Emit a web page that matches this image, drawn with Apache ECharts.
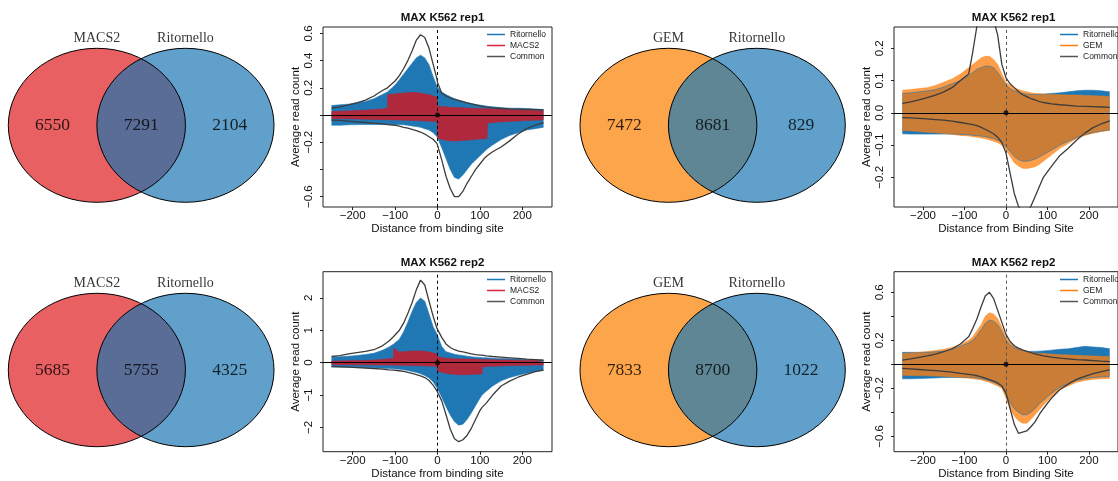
<!DOCTYPE html>
<html><head><meta charset="utf-8">
<script src="https://cdn.jsdelivr.net/npm/echarts@6/dist/echarts.min.js"></script>
<style>html,body{margin:0;padding:0;background:#fff}#c{width:1118px;height:481px}</style>
</head><body><div id="c"></div>
<script>
// ---------------- Venn data ----------------
const vennSetsA = ['MACS2', 'Ritornello'];
const vennSetsB = ['GEM', 'Ritornello'];
const vennRep1A = [6550, 7291, 2104];
const vennRep2A = [5685, 5755, 4325];
const vennRep1B = [7472, 8681, 829];
const vennRep2B = [7833, 8700, 1022];

// ---------------- Profile data ----------------
const profileTitles = ['MAX K562 rep1', 'MAX K562 rep1', 'MAX K562 rep2', 'MAX K562 rep2'];
const xTicks = [-200, -100, 0, 100, 200];

// Panel 1: MACS2 vs Ritornello, rep1
const xP1 = [-250,-230,-210,-190,-170,-150,-130,-118,-117,-100,-90,-80,-70,-60,-50,-40,-30,-20,-10,-1,0,10,20,30,40,50,60,70,80,90,100,110,117,118,130,150,170,190,210,230,250];
const p1RitTop = [0.07,0.075,0.08,0.09,0.1,0.12,0.15,0.17,0.17,0.22,0.26,0.3,0.34,0.38,0.42,0.44,0.42,0.37,0.28,0.21,0.2,0.17,0.15,0.135,0.12,0.11,0.1,0.09,0.085,0.078,0.073,0.068,0.065,0.065,0.06,0.055,0.05,0.05,0.048,0.045,0.04];
const p1RitBot = [-0.075,-0.075,-0.072,-0.07,-0.07,-0.07,-0.07,-0.07,-0.07,-0.07,-0.07,-0.072,-0.075,-0.08,-0.085,-0.09,-0.1,-0.11,-0.13,-0.16,-0.17,-0.24,-0.32,-0.4,-0.46,-0.47,-0.44,-0.4,-0.36,-0.33,-0.3,-0.27,-0.25,-0.25,-0.22,-0.18,-0.15,-0.13,-0.11,-0.1,-0.09];
const p1MacTop = [0.025,0.028,0.03,0.033,0.036,0.04,0.045,0.05,0.15,0.155,0.16,0.16,0.165,0.165,0.165,0.16,0.155,0.15,0.14,0.13,0.065,0.062,0.06,0.058,0.056,0.055,0.053,0.052,0.05,0.049,0.048,0.047,0.046,0.046,0.044,0.042,0.04,0.037,0.035,0.033,0.03];
const p1MacBot = [-0.025,-0.027,-0.028,-0.03,-0.031,-0.032,-0.034,-0.035,-0.035,-0.036,-0.037,-0.038,-0.039,-0.04,-0.041,-0.042,-0.043,-0.045,-0.047,-0.05,-0.17,-0.18,-0.185,-0.19,-0.19,-0.19,-0.185,-0.185,-0.18,-0.18,-0.175,-0.175,-0.17,-0.06,-0.055,-0.05,-0.047,-0.044,-0.041,-0.038,-0.035];
const p1ComTop = [0.05,0.06,0.075,0.09,0.11,0.14,0.18,0.2,0.2,0.25,0.29,0.34,0.4,0.47,0.55,0.59,0.57,0.49,0.37,0.26,0.24,0.16,0.14,0.125,0.115,0.105,0.098,0.09,0.082,0.075,0.068,0.062,0.058,0.058,0.053,0.048,0.045,0.043,0.041,0.039,0.037];
const p1ComBot = [-0.037,-0.04,-0.045,-0.05,-0.055,-0.06,-0.065,-0.07,-0.07,-0.075,-0.082,-0.09,-0.097,-0.105,-0.115,-0.125,-0.14,-0.16,-0.18,-0.21,-0.22,-0.33,-0.45,-0.54,-0.6,-0.6,-0.56,-0.5,-0.45,-0.4,-0.36,-0.32,-0.3,-0.3,-0.27,-0.235,-0.19,-0.14,-0.1,-0.075,-0.055];
const p1YTicks = [-0.6,-0.4,-0.2,0,0.2,0.4,0.6];
const p1YLabels = [-0.6,-0.2,0.2,0.4,0.6];

// Panel 2: GEM vs Ritornello, rep1
const xP2 = [-250,-230,-210,-190,-170,-150,-130,-110,-90,-80,-70,-60,-50,-40,-30,-20,-10,0,10,20,30,40,50,60,70,80,90,110,130,150,170,190,210,230,250];
const p2RitTop = [0.06,0.062,0.065,0.068,0.072,0.08,0.09,0.1,0.115,0.125,0.135,0.14,0.145,0.145,0.14,0.125,0.105,0.085,0.075,0.068,0.063,0.06,0.058,0.057,0.057,0.057,0.058,0.06,0.062,0.065,0.068,0.07,0.07,0.068,0.065];
const p2RitBot = [-0.065,-0.066,-0.066,-0.066,-0.066,-0.066,-0.066,-0.067,-0.068,-0.07,-0.071,-0.072,-0.074,-0.077,-0.08,-0.085,-0.092,-0.105,-0.12,-0.135,-0.145,-0.15,-0.15,-0.148,-0.143,-0.137,-0.13,-0.115,-0.1,-0.088,-0.077,-0.068,-0.062,-0.057,-0.053];
const p2GemTop = [0.07,0.072,0.075,0.078,0.085,0.095,0.105,0.12,0.14,0.15,0.16,0.17,0.175,0.175,0.165,0.15,0.12,0.095,0.085,0.078,0.072,0.068,0.065,0.062,0.06,0.06,0.058,0.057,0.056,0.055,0.055,0.054,0.053,0.052,0.05];
const p2GemBot = [-0.055,-0.056,-0.058,-0.06,-0.062,-0.064,-0.067,-0.07,-0.072,-0.074,-0.076,-0.078,-0.08,-0.084,-0.088,-0.093,-0.1,-0.115,-0.135,-0.155,-0.165,-0.172,-0.173,-0.17,-0.167,-0.16,-0.15,-0.13,-0.11,-0.095,-0.08,-0.07,-0.063,-0.058,-0.055];
const p2ComTop = [0.029,0.034,0.04,0.047,0.055,0.065,0.078,0.1,0.12,0.19,0.27,0.3,0.32,0.32,0.29,0.24,0.15,0.108,0.09,0.078,0.066,0.056,0.05,0.044,0.04,0.035,0.032,0.028,0.025,0.023,0.021,0.02,0.019,0.018,0.017];
const p2ComBot = [-0.015,-0.016,-0.017,-0.019,-0.021,-0.023,-0.026,-0.03,-0.034,-0.037,-0.04,-0.045,-0.051,-0.058,-0.065,-0.076,-0.092,-0.125,-0.188,-0.25,-0.29,-0.31,-0.31,-0.29,-0.26,-0.23,-0.2,-0.165,-0.132,-0.11,-0.085,-0.063,-0.046,-0.034,-0.025];
const p2YTicks = [-0.2,-0.1,0,0.1,0.2];
const p2YLabels = [-0.2,-0.1,0,0.1,0.2];

// Panel 3: MACS2 vs Ritornello, rep2
const xP3 = [-250,-230,-210,-190,-170,-150,-130,-115,-104,-103,-90,-80,-70,-60,-50,-40,-30,-20,-10,-1,0,10,20,30,40,50,60,70,80,90,100,105,106,115,130,150,170,190,210,230,250];
const p3RitTop = [0.17,0.18,0.2,0.22,0.25,0.29,0.38,0.48,0.57,0.58,0.72,0.95,1.25,1.58,1.86,2.0,1.9,1.5,1.1,0.88,0.86,0.5,0.34,0.3,0.26,0.24,0.22,0.2,0.18,0.17,0.16,0.155,0.155,0.15,0.14,0.13,0.12,0.11,0.1,0.09,0.08];
const p3RitBot = [-0.13,-0.135,-0.14,-0.145,-0.15,-0.16,-0.17,-0.18,-0.19,-0.19,-0.2,-0.22,-0.24,-0.27,-0.3,-0.34,-0.4,-0.47,-0.6,-0.78,-0.8,-1.07,-1.35,-1.62,-1.82,-1.93,-1.9,-1.75,-1.55,-1.32,-1.1,-1.0,-1.0,-0.88,-0.72,-0.56,-0.46,-0.39,-0.33,-0.28,-0.23];
const p3MacTop = [0.05,0.055,0.06,0.065,0.07,0.08,0.1,0.12,0.13,0.45,0.33,0.34,0.35,0.36,0.36,0.36,0.35,0.33,0.3,0.26,0.18,0.16,0.14,0.13,0.12,0.12,0.115,0.11,0.11,0.105,0.1,0.1,0.1,0.095,0.09,0.085,0.08,0.075,0.07,0.065,0.06];
const p3MacBot = [-0.06,-0.062,-0.064,-0.066,-0.068,-0.07,-0.073,-0.075,-0.077,-0.078,-0.08,-0.082,-0.085,-0.088,-0.09,-0.095,-0.1,-0.105,-0.11,-0.12,-0.25,-0.3,-0.33,-0.35,-0.36,-0.37,-0.37,-0.37,-0.36,-0.36,-0.35,-0.35,-0.13,-0.12,-0.11,-0.1,-0.09,-0.085,-0.08,-0.075,-0.07];
const p3ComTop = [0.19,0.22,0.27,0.31,0.35,0.4,0.52,0.66,0.8,0.81,1.0,1.22,1.52,1.85,2.25,2.55,2.4,1.9,1.42,1.05,1.0,0.78,0.58,0.47,0.4,0.36,0.33,0.3,0.27,0.25,0.235,0.23,0.23,0.21,0.19,0.17,0.15,0.13,0.11,0.095,0.08];
const p3ComBot = [-0.12,-0.13,-0.14,-0.15,-0.165,-0.18,-0.2,-0.22,-0.23,-0.23,-0.25,-0.27,-0.3,-0.33,-0.37,-0.41,-0.46,-0.55,-0.7,-0.88,-0.9,-1.18,-1.6,-2.05,-2.35,-2.44,-2.38,-2.24,-2.02,-1.75,-1.48,-1.38,-1.37,-1.25,-1.0,-0.72,-0.57,-0.45,-0.36,-0.28,-0.23];
const p3YTicks = [-2,-1,0,1,2];
const p3YLabels = [-2,-1,0,1,2];

// Panel 4: GEM vs Ritornello, rep2
const xP4 = [-250,-230,-210,-190,-170,-150,-130,-110,-90,-80,-70,-60,-50,-40,-30,-20,-10,0,10,20,30,40,50,60,70,80,90,110,130,150,170,190,210,230,250];
const p4RitTop = [0.1,0.1,0.1,0.1,0.105,0.11,0.125,0.15,0.18,0.2,0.24,0.29,0.34,0.37,0.36,0.33,0.27,0.2,0.16,0.14,0.125,0.115,0.11,0.108,0.108,0.11,0.112,0.118,0.125,0.13,0.14,0.15,0.145,0.14,0.13];
const p4RitBot = [-0.12,-0.12,-0.118,-0.115,-0.113,-0.11,-0.11,-0.11,-0.11,-0.112,-0.115,-0.12,-0.128,-0.138,-0.15,-0.165,-0.185,-0.25,-0.32,-0.37,-0.4,-0.42,-0.42,-0.4,-0.37,-0.33,-0.3,-0.24,-0.19,-0.16,-0.135,-0.12,-0.11,-0.105,-0.1];
const p4GemTop = [0.09,0.095,0.1,0.107,0.115,0.125,0.14,0.165,0.2,0.23,0.28,0.33,0.4,0.43,0.42,0.38,0.31,0.23,0.18,0.155,0.13,0.115,0.105,0.1,0.095,0.09,0.09,0.085,0.08,0.078,0.075,0.072,0.07,0.067,0.064];
const p4GemBot = [-0.09,-0.092,-0.094,-0.096,-0.098,-0.1,-0.105,-0.11,-0.115,-0.12,-0.125,-0.13,-0.14,-0.15,-0.165,-0.18,-0.2,-0.28,-0.37,-0.43,-0.47,-0.49,-0.49,-0.46,-0.42,-0.38,-0.34,-0.27,-0.21,-0.18,-0.15,-0.135,-0.125,-0.12,-0.117];
const p4ComTop = [0.036,0.046,0.058,0.07,0.085,0.105,0.13,0.17,0.23,0.3,0.38,0.48,0.57,0.6,0.55,0.45,0.35,0.25,0.19,0.155,0.135,0.12,0.108,0.098,0.088,0.078,0.07,0.06,0.052,0.046,0.04,0.036,0.031,0.026,0.022];
const p4ComBot = [-0.033,-0.038,-0.043,-0.048,-0.053,-0.058,-0.065,-0.075,-0.083,-0.088,-0.095,-0.105,-0.115,-0.127,-0.14,-0.155,-0.18,-0.24,-0.37,-0.5,-0.575,-0.565,-0.555,-0.52,-0.48,-0.42,-0.37,-0.28,-0.21,-0.165,-0.125,-0.1,-0.078,-0.06,-0.047];
const p4YTicks = [-0.6,-0.4,-0.2,0,0.2,0.4,0.6];
const p4YLabels = [-0.6,-0.2,0.2,0.6];

// ---------------- Styles / layout ----------------
const SANS = "'Liberation Sans', Arial, Helvetica, sans-serif";
const SERIF = "'Liberation Serif', 'Times New Roman', serif";
const C_BLUE = '#1F77B4', C_RED = '#B0283C', C_RED_LEG = '#D9263C', C_ORANGE = '#FF7F0E', C_COMMON = '#3c3c3c';
const V_RED = '#E86062', V_BLUE = '#60A0CA', V_LENS_A = '#5A6D97', V_ORANGE = '#FDA54A', V_LENS_B = '#5F8694';

const vennLayouts = [
  {left: 8.3, top: 48.3, width: 265.7, height: 154, sets: vennSetsA, counts: vennRep1A, colors: [V_RED, V_BLUE, V_LENS_A]},
  {left: 580, top: 48.3, width: 265.3, height: 154, sets: vennSetsB, counts: vennRep1B, colors: [V_ORANGE, V_BLUE, V_LENS_B]},
  {left: 8.3, top: 293.3, width: 265.7, height: 153.4, sets: vennSetsA, counts: vennRep2A, colors: [V_RED, V_BLUE, V_LENS_A]},
  {left: 580, top: 293.3, width: 265.3, height: 153.4, sets: vennSetsB, counts: vennRep2B, colors: [V_ORANGE, V_BLUE, V_LENS_B]}
];

const panels = [
  {grid: {left: 323, top: 27, width: 229, height: 180}, titleTop: 7, legend: {left: 487, top: 30},
   ymin: -0.676, ymax: 0.647, dec: 1, yTicks: p1YTicks, yLabels: p1YLabels, xName: 'Distance from binding site',
   other: 'MACS2', otherColor: C_RED, otherLeg: C_RED_LEG, otherOpacity: 1,
   xs: xP1, ritTop: p1RitTop, ritBot: p1RitBot, oTop: p1MacTop, oBot: p1MacBot, cTop: p1ComTop, cBot: p1ComBot},
  {grid: {left: 894, top: 27, width: 230, height: 180}, titleTop: 7, legend: {left: 1060, top: 30},
   ymin: -0.292, ymax: 0.266, dec: 1, yTicks: p2YTicks, yLabels: p2YLabels, xName: 'Distance from Binding Site',
   other: 'GEM', otherColor: C_ORANGE, otherLeg: C_ORANGE, otherOpacity: 0.76,
   xs: xP2, ritTop: p2RitTop, ritBot: p2RitBot, oTop: p2GemTop, oBot: p2GemBot, cTop: p2ComTop, cBot: p2ComBot},
  {grid: {left: 323, top: 271.7, width: 229, height: 180}, titleTop: 252, legend: {left: 487, top: 275},
   ymin: -2.75, ymax: 2.81, dec: 0, yTicks: p3YTicks, yLabels: p3YLabels, xName: 'Distance from binding site',
   other: 'MACS2', otherColor: C_RED, otherLeg: C_RED_LEG, otherOpacity: 1,
   xs: xP3, ritTop: p3RitTop, ritBot: p3RitBot, oTop: p3MacTop, oBot: p3MacBot, cTop: p3ComTop, cBot: p3ComBot},
  {grid: {left: 894, top: 271.7, width: 230, height: 180}, titleTop: 252, legend: {left: 1060, top: 275},
   ymin: -0.728, ymax: 0.772, dec: 1, yTicks: p4YTicks, yLabels: p4YLabels, xName: 'Distance from Binding Site',
   other: 'GEM', otherColor: C_ORANGE, otherLeg: C_ORANGE, otherOpacity: 0.76,
   xs: xP4, ritTop: p4RitTop, ritBot: p4RitBot, oTop: p4GemTop, oBot: p4GemBot, cTop: p4ComTop, cBot: p4ComBot}
];

// ---------------- Build option ----------------
function pairs(xs, ys) { return xs.map((x, i) => [x, ys[i]]); }
function fmt(dec) { return v => (v < -1e-9 ? '\u2212' : '') + Math.abs(v).toFixed(dec); }

const grids = [], xAxes = [], yAxes = [], series = [], titles = [], legends = [];

vennLayouts.forEach((v, i) => {
  grids.push({left: v.left, top: v.top, width: v.width, height: v.height, show: false});
  xAxes.push({type: 'value', gridIndex: i, min: -1.5, max: 1.5, show: false});
  yAxes.push({type: 'value', gridIndex: i, min: -1, max: 1, show: false});
  const cols = v.colors;
  series.push({
    type: 'custom', xAxisIndex: i, yAxisIndex: i, silent: true, clip: false, z: 1,
    data: [[0, 0]],
    renderItem: function (params, api) {
      const c1 = api.coord([-0.5, 0]), c2 = api.coord([0.5, 0]);
      const s = api.size([1, 1]);
      const rx = s[0], ry = s[1];
      const h = Math.sqrt(0.75);
      const t = api.coord([0, h]), b = api.coord([0, -h]);
      const ell = c => `M${c[0] - rx} ${c[1]} A${rx} ${ry} 0 1 0 ${c[0] + rx} ${c[1]} A${rx} ${ry} 0 1 0 ${c[0] - rx} ${c[1]} Z`;
      const lens = `M${t[0]} ${t[1]} A${rx} ${ry} 0 0 1 ${b[0]} ${b[1]} A${rx} ${ry} 0 0 1 ${t[0]} ${t[1]} Z`;
      return {type: 'group', children: [
        {type: 'path', shape: {pathData: ell(c1)}, style: {fill: cols[0], stroke: null}},
        {type: 'path', shape: {pathData: ell(c2)}, style: {fill: cols[1], stroke: null}},
        {type: 'path', shape: {pathData: lens}, style: {fill: cols[2], stroke: null}},
        {type: 'path', shape: {pathData: ell(c1)}, style: {fill: 'none', stroke: '#000', lineWidth: 1}},
        {type: 'path', shape: {pathData: ell(c2)}, style: {fill: 'none', stroke: '#000', lineWidth: 1}}
      ]};
    }
  });
  series.push({
    type: 'scatter', xAxisIndex: i, yAxisIndex: i, silent: true, clip: false, z: 3,
    symbolSize: 1, itemStyle: {color: 'rgba(0,0,0,0)'},
    data: [[-1, 0, v.counts[0]], [0, 0, v.counts[1]], [1, 0, v.counts[2]]],
    label: {show: true, position: 'inside', formatter: p => String(p.value[2]),
      fontFamily: SERIF, fontSize: 17.5, color: '#000'}
  });
  series.push({
    type: 'scatter', xAxisIndex: i, yAxisIndex: i, silent: true, clip: false, z: 3,
    symbolSize: 1, itemStyle: {color: 'rgba(0,0,0,0)'},
    data: [[-0.5, 1.135, v.sets[0]], [0.5, 1.135, v.sets[1]]],
    label: {show: true, position: 'inside', formatter: p => p.value[2],
      fontFamily: SERIF, fontSize: 14, color: '#000'}
  });
});

panels.forEach((p, k) => {
  const gi = 4 + k;
  grids.push(Object.assign({show: true, borderColor: '#222', borderWidth: 1, backgroundColor: 'transparent'}, p.grid));
  xAxes.push({
    type: 'value', gridIndex: gi, min: -270, max: 270,
    name: p.xName, nameLocation: 'middle', nameGap: 14,
    nameTextStyle: {fontFamily: SANS, fontSize: 11.5, color: '#111'},
    axisLine: {show: false, onZero: false},
    axisTick: {show: true, length: 3, inside: false, customValues: xTicks, lineStyle: {color: '#222'}},
    axisLabel: {show: true, margin: 3, customValues: xTicks, formatter: fmt(0), fontFamily: SANS, fontSize: 11.5, color: '#111'},
    splitLine: {show: false}
  });
  yAxes.push({
    type: 'value', gridIndex: gi, min: p.ymin, max: p.ymax,
    name: 'Average read count', nameLocation: 'middle', nameGap: 19, nameRotate: 90,
    nameTextStyle: {fontFamily: SANS, fontSize: 11.5, color: '#111'},
    axisLine: {show: false, onZero: false},
    axisTick: {show: true, length: 3, inside: false, customValues: p.yTicks, lineStyle: {color: '#222'}},
    axisLabel: {show: true, rotate: 90, margin: 8, customValues: p.yLabels, formatter: fmt(p.dec), fontFamily: SANS, fontSize: 11.5, color: '#111'},
    splitLine: {show: false}
  });
  titles.push({
    text: profileTitles[k], left: p.grid.left + p.grid.width / 2 - (k % 2 ? 0.5 : 0), top: p.titleTop, textAlign: 'center',
    textStyle: {fontFamily: SANS, fontSize: 11.5, fontWeight: 'bold', color: '#111'}
  });
  legends.push({
    left: p.legend.left, top: p.legend.top, orient: 'vertical', icon: 'rect', itemWidth: 18, itemHeight: 1.5, itemGap: 2,
    padding: 0, selectedMode: false,
    textStyle: {fontFamily: SANS, fontSize: 8.5, color: '#222'},
    data: [
      {name: 'Ritornello', itemStyle: {color: C_BLUE}},
      {name: p.other, itemStyle: {color: p.otherLeg}},
      {name: 'Common', itemStyle: {color: '#555'}}
    ]
  });
  const area = (name, color, ys, op) => ({
    type: 'line', name, xAxisIndex: gi, yAxisIndex: gi, data: pairs(p.xs, ys), symbol: 'none', silent: true,
    lineStyle: {width: 0.6, color, opacity: op}, itemStyle: {color}, areaStyle: {color, opacity: op}, z: 2
  });
  series.push(area('Ritornello', C_BLUE, p.ritTop, 1));
  series.push(area('Ritornello', C_BLUE, p.ritBot, 1));
  series.push(area(p.other, p.otherColor, p.oTop, p.otherOpacity));
  series.push(area(p.other, p.otherColor, p.oBot, p.otherOpacity));
  series.push({
    type: 'scatter', name: 'origin', xAxisIndex: gi, yAxisIndex: gi, data: [[0, 0]], symbolSize: 5, silent: true,
    itemStyle: {color: '#000'}, z: 5,
    markLine: {silent: true, symbol: ['none', 'none'], label: {show: false}, animation: false,
      data: [
        {xAxis: 0, lineStyle: {type: [3, 3], color: k % 2 ? '#555' : '#000', width: 1}},
        {yAxis: 0, lineStyle: {type: 'solid', color: '#000', width: 1.2}}
      ]}
  });
  const line = (ys) => ({
    type: 'line', name: 'Common', xAxisIndex: gi, yAxisIndex: gi, data: pairs(p.xs, ys), symbol: 'none', silent: true,
    lineStyle: {width: 1.3, color: C_COMMON}, itemStyle: {color: C_COMMON}, z: 6
  });
  series.push(line(p.cTop));
  series.push(line(p.cBot));
});

const chart = echarts.init(document.getElementById('c'), null, {renderer: 'canvas'});
chart.setOption({
  animation: false,
  backgroundColor: '#fff',
  title: titles,
  legend: legends,
  grid: grids,
  xAxis: xAxes,
  yAxis: yAxes,
  series: series
});
</script></body></html>
